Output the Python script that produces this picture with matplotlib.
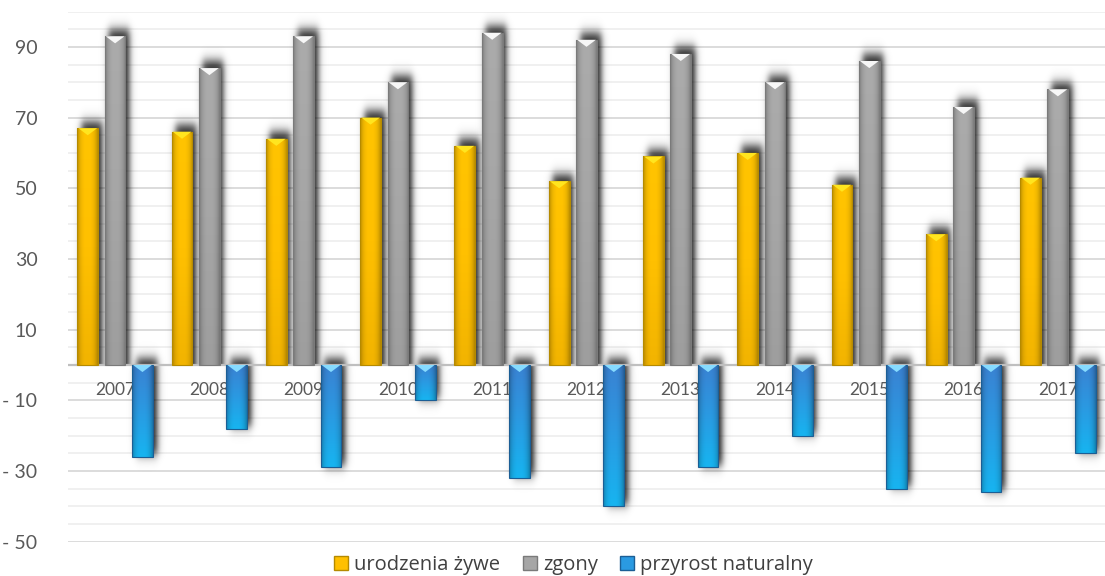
# Urodzenia, zgony i przyrost naturalny 2007-2017
# wykres slupkowy z cieniem i gradientem

import numpy as np
import matplotlib.pyplot as plt
from matplotlib.patches import Patch, Polygon
from matplotlib.colors import LinearSegmentedColormap
from matplotlib.ticker import FuncFormatter, MultipleLocator

plt.rcParams['font.family'] = ['Lato', 'DejaVu Sans']

# dane
Lata = ['2007', '2008', '2009', '2010', '2011', '2012',
        '2013', '2014', '2015', '2016', '2017']
Urodzenia = [67, 66, 64, 70, 62, 52, 59, 60, 51, 37, 53]
Zgony = [93, 84, 93, 80, 94, 92, 88, 80, 86, 73, 78]
Przyrost = [-26, -18, -29, -10, -32, -40, -29, -20, -35, -36, -25]

Nazwy = ['urodzenia żywe', 'zgony', 'przyrost naturalny']

# kolory: gradient pionowy, czubek, krawedz
Style = [
    (['#F2B400', '#FFC000', '#FFC400'], '#FFE51F', '#B58A00'),
    (['#9E9E9E', '#A6A6A6', '#ABABAB'], '#F7F7F7', '#7A7A7A'),
    (['#17B4F0', '#2A9AE2', '#3A82D2'], '#86DBFF', '#1B5E95'),
]


def Gradient(ax, Slupek, Kolory):
    x = Slupek.get_x()
    w = Slupek.get_width()
    y0 = min(Slupek.get_y(), Slupek.get_y() + Slupek.get_height())
    y1 = max(Slupek.get_y(), Slupek.get_y() + Slupek.get_height())
    cmap = LinearSegmentedColormap.from_list('g', Kolory)
    im = ax.imshow(np.linspace(0, 1, 64).reshape(-1, 1), cmap=cmap,
                   extent=[x, x + w, y0, y1], aspect='auto',
                   origin='lower', zorder=3, interpolation='bicubic')
    im.set_clip_path(Slupek)
    # ciemniejsze boki
    t = np.linspace(-1, 1, 64)
    cien = np.zeros((1, 64, 4))
    cien[0, :, 3] = 0.28 * np.abs(t) ** 3
    im2 = ax.imshow(cien, extent=[x, x + w, y0, y1], aspect='auto',
                    zorder=3.1, interpolation='bicubic')
    im2.set_clip_path(Slupek)


def Cien(ax, Slupek):
    # miekki cien przesuniety w prawo i w gore
    x = Slupek.get_x() + 0.04
    w = Slupek.get_width()
    h = Slupek.get_height()
    sx = 0.04
    sy = 1.8
    xs = np.linspace(x - 3 * sx, x + w + 3 * sx, 80)
    ax_ = 0.5 * (np.tanh((xs - x) / sx) - np.tanh((xs - x - w) / sx))
    if h > 0:
        y1 = h + 2.0
        ys = np.linspace(0, y1 + 3 * sy, 200)
        ay_ = 0.5 * (1 - np.tanh((ys - y1) / sy))
    else:
        y0 = h + 0.5
        y1 = 1.8
        ys = np.linspace(y0 - 3 * sy, y1 + 3 * sy, 200)
        ay_ = 0.5 * (np.tanh((ys - y0) / sy) - np.tanh((ys - y1) / sy))
    obraz = np.zeros((len(ys), len(xs), 4))
    obraz[:, :, 3] = 0.85 * np.outer(ay_, ax_)
    ax.imshow(obraz, extent=[xs[0], xs[-1], ys[0], ys[-1]], aspect='auto',
              origin='lower', zorder=2.5, interpolation='bilinear')


Fig = plt.figure(figsize=(11.05, 5.76), dpi=100)
Ax = Fig.add_axes([0.0615, 0.0595, 0.9385, 0.9205])

X = np.arange(len(Lata))
Szerokosc = 0.22
Przesuniecia = [-0.29, 0.0, 0.29]
Serie = [Urodzenia, Zgony, Przyrost]

for Seria, dx, (Kolory, Czubek, Krawedz) in zip(Serie, Przesuniecia, Style):
    Slupki = Ax.bar(X + dx, Seria, Szerokosc, color='none',
                    edgecolor=Krawedz, linewidth=0.8, zorder=3.2)
    for s in Slupki:
        Cien(Ax, s)
        Gradient(Ax, s, Kolory)
        # czubek slupka
        x = s.get_x()
        w = s.get_width()
        top = max(s.get_height(), 0)
        Ax.add_patch(Polygon([[x + 0.01, top], [x + w - 0.01, top],
                              [x + w / 2, top - 2.0]],
                             closed=True, facecolor=Czubek,
                             edgecolor='none', zorder=3.3))

# etykiety lat pod osia zera
for i, rok in enumerate(Lata):
    Ax.annotate(rok, xy=(i, 0), xytext=(0, -12),
                textcoords='offset points', ha='center', va='top',
                fontsize=12.5, color='#595959', zorder=2.8)

# os zera
Ax.axhline(0, color='#BFBFBF', linewidth=1.6, zorder=2.6)

Ax.set_xlim(-0.5, len(Lata) - 0.5)
Ax.set_ylim(-50, 100)
Ax.set_xticks([])
Ax.set_yticks(np.arange(-50, 91, 20))
Ax.yaxis.set_minor_locator(MultipleLocator(5))
Ax.yaxis.set_major_formatter(FuncFormatter(
    lambda v, p: f'- {abs(int(v))}' if v < 0 else f'{int(v)}'))
Ax.tick_params(axis='y', which='both', length=0, pad=22,
               labelsize=14, labelcolor='#595959')
Ax.grid(axis='y', which='major', color='#D9D9D9', linewidth=1.3, zorder=0)
Ax.grid(axis='y', which='minor', color='#EDEDED', linewidth=1.2, zorder=0)
Ax.set_axisbelow(True)
for sp in Ax.spines.values():
    sp.set_visible(False)

# legenda
Uchwyty = [Patch(facecolor=Kolory[1], edgecolor=Krawedz)
           for Kolory, Czubek, Krawedz in Style]
Fig.legend(Uchwyty, Nazwy, loc='center', bbox_to_anchor=(0.519, 1 - 565 / 576),
           ncol=3, frameon=False, handlelength=0.7, handleheight=0.7,
           handletextpad=0.3, columnspacing=1.1,
           prop={'family': ['Open Sans', 'DejaVu Sans'], 'size': 14.5},
           labelcolor='#404040')

Fig.savefig('out.png', dpi=100)
